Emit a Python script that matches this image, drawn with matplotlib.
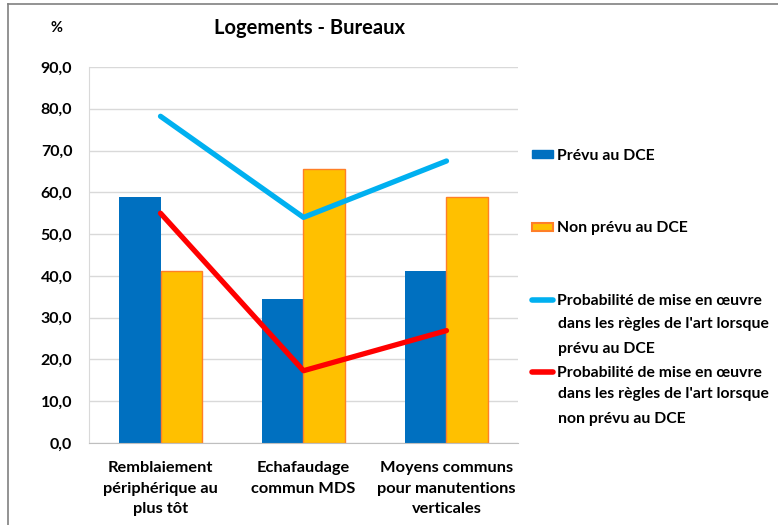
import matplotlib
matplotlib.use("Agg")
import matplotlib.pyplot as plt
import numpy as np
from matplotlib.lines import Line2D
from matplotlib.patches import Patch

plt.rcParams['font.family'] = ['Lato', 'DejaVu Sans']
plt.rcParams['font.weight'] = 'bold'

# data
categories = ["Remblaiement\npériphérique au\nplus tôt", "Echafaudage\ncommun MDS",
              "Moyens communs\npour manutentions\nverticales"]
prevu = [58.8, 34.5, 41.2]
non_prevu = [41.2, 65.5, 58.8]
proba_prevu = [78.2, 54.0, 67.5]
proba_non_prevu = [55.0, 17.3, 26.9]
yticks = [0, 10, 20, 30, 40, 50, 60, 70, 80, 90]

fig = plt.figure(figsize=(7.78, 5.25), dpi=100)
ax = fig.add_axes([0.1144, 0.1562, 0.5514, 0.7162])

x = np.arange(len(categories))
w = 0.287
ax.bar(x - w / 2, prevu, w, color="#0070C0", zorder=2)
ax.bar(x + w / 2, non_prevu, w, color="#FFC000", edgecolor="#FF7F27", linewidth=1, zorder=2)
ax.plot(x, proba_prevu, color="#00B0F0", lw=3.8, solid_capstyle="round", zorder=3)
ax.plot(x, proba_non_prevu, color="#FF0000", lw=3.8, solid_capstyle="round", zorder=3)

ax.set_xlim(-0.5, 2.5)
ax.set_ylim(0, 90)
ax.set_yticks(yticks)
ax.set_yticklabels([f"{v:.1f}".replace(".", ",") for v in yticks], fontsize=11.5, fontweight="bold")
ax.set_xticks(x)
ax.set_xticklabels(categories, fontsize=11.8, fontweight="bold", linespacing=1.6)
ax.tick_params(axis="both", length=0)
ax.tick_params(axis="x", pad=13)
ax.tick_params(axis="y", pad=12)
ax.grid(axis="y", color="#D9D9D9", lw=1, zorder=0)
for s in ["top", "right"]:
    ax.spines[s].set_visible(False)
ax.spines["left"].set_color("#D9D9D9")
ax.spines["bottom"].set_color("#BFBFBF")

fig.text(0.398, 0.946, "Logements - Bureaux", ha="center", va="center", fontsize=14.5, fontweight="bold")
fig.text(0.073, 0.946, "%", ha="center", va="center", fontsize=10.5, fontweight="bold")

# legend
handles = [Patch(facecolor="#0070C0", edgecolor="#0070C0"),
           Patch(facecolor="#FFC000", edgecolor="#FF7F27", linewidth=1.5),
           Line2D([], [], color="#00B0F0", lw=4, solid_capstyle="round"),
           Line2D([], [], color="#FF0000", lw=4, solid_capstyle="round")]
labels = ["Prévu au DCE", "Non prévu au DCE",
          "Probabilité de mise en œuvre", "Probabilité de mise en œuvre"]
leg = fig.legend(handles, labels, loc="upper left", bbox_to_anchor=(0.674, 0.731),
                 frameon=False, fontsize=11.3, labelspacing=3.72, handlelength=1.35,
                 handleheight=0.4, handletextpad=0.2, borderpad=0)
fig.text(0.717, 0.396, "dans les règles de l'art lorsque\nprévu au DCE", ha="left", va="top",
         fontsize=11.3, fontweight="bold", linespacing=2.0)
fig.text(0.717, 0.263, "dans les règles de l'art lorsque\nnon prévu au DCE", ha="left", va="top",
         fontsize=11.3, fontweight="bold", linespacing=2.0)

# frame
fig.add_artist(Line2D([0.0103, 0.0103], [0, 0.992], transform=fig.transFigure, color="#808080", lw=1.2))
fig.add_artist(Line2D([0.0103, 1], [0.992, 0.992], transform=fig.transFigure, color="#808080", lw=1.2))

fig.savefig("out.png", dpi=100)
